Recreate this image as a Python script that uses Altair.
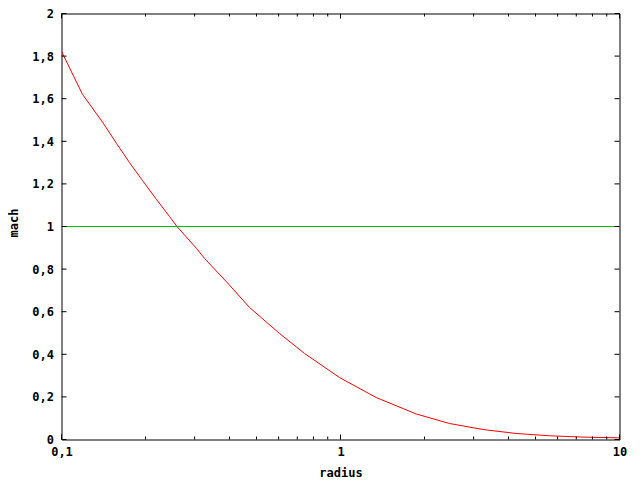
import altair as alt
import pandas as pd

radius = [0.1, 0.119, 0.1403, 0.1575, 0.1753, 0.1951, 0.219, 0.2438, 0.259,
          0.3048, 0.3255, 0.3936, 0.4719, 0.6044, 0.743, 0.9918, 1.343, 1.867, 2.459,
          3.236, 4.264, 5.61, 7.39, 9.73, 10.0]
mach = [1.822, 1.620, 1.49, 1.39, 1.30, 1.216, 1.127, 1.047, 1.001,
        0.897, 0.85, 0.735, 0.62, 0.498, 0.404, 0.291, 0.197, 0.120, 0.0751,
        0.047, 0.0282, 0.0174, 0.0113, 0.008, 0.0077]

x_major = [0.1, 1, 10]
x_minor = [0.2, 0.3, 0.4, 0.5, 0.6, 0.7, 0.8, 0.9, 2, 3, 4, 5, 6, 7, 8, 9]
y_major = [0, 0.2, 0.4, 0.6, 0.8, 1.0, 1.2, 1.4, 1.6, 1.8, 2.0]
sonic = [1.0]

W, H = 558, 426
FONT = "DejaVu Sans Mono"
FS = 12
LBL = "replace(format(datum.value, '~g'), '.', ',')"

df = pd.DataFrame({"radius": radius, "mach": mach})
xs = alt.Scale(type="log", domain=[0.1, 10])
ys = alt.Scale(domain=[0, 2])

common = dict(tickSize=0, domain=False, grid=False, labelExpr=LBL,
              labelFont=FONT, labelFontSize=FS, labelFontWeight="bold", labelColor="black",
              titleFont=FONT, titleFontSize=FS, titleFontWeight="bold", titleColor="black",
              titleBaseline="middle")

curve = alt.Chart(df).mark_line(color="#ff0000", strokeWidth=1, clip=True).encode(
    x=alt.X("radius:Q", scale=xs, title="radius",
            axis=alt.Axis(values=x_major, labelPadding=7, labelFlush=False,
                          titleY=33, **common)),
    y=alt.Y("mach:Q", scale=ys, title="mach",
            axis=alt.Axis(values=y_major, labelPadding=8,
                          titleX=-48, titleY=H / 2 - 4,
                          titleAlign="center", titleAngle=-90, **common)),
)

green = alt.Chart(pd.DataFrame({"m": sonic})).mark_rule(color="#00c000", strokeWidth=1).encode(
    y=alt.Y("m:Q", scale=ys), x=alt.value(0), x2=alt.value(W))

xmaj = pd.DataFrame({"v": x_major})
xmin = pd.DataFrame({"v": x_minor})
ymaj = pd.DataFrame({"v": y_major})

def xticks(data, length):
    bottom = alt.Chart(data).mark_rule(color="black", strokeWidth=1).encode(
        x=alt.X("v:Q", scale=xs), y=alt.value(H), y2=alt.value(H - length))
    top = alt.Chart(data).mark_rule(color="black", strokeWidth=1).encode(
        x=alt.X("v:Q", scale=xs), y=alt.value(0), y2=alt.value(length))
    return bottom + top

left = alt.Chart(ymaj).mark_rule(color="black", strokeWidth=1).encode(
    y=alt.Y("v:Q", scale=ys), x=alt.value(0), x2=alt.value(5))
right = alt.Chart(ymaj).mark_rule(color="black", strokeWidth=1).encode(
    y=alt.Y("v:Q", scale=ys), x=alt.value(W), x2=alt.value(W - 5))

chart = alt.layer(curve, green, xticks(xmaj, 5), xticks(xmin, 3), left, right).properties(
    width=W, height=H,
    autosize=alt.AutoSizeParams(type="none"),
    padding={"left": 53.5, "top": 5.5, "right": 12.5, "bottom": 40.5},
).configure(background="white").configure_view(stroke="black", strokeWidth=1, strokeOpacity=1)

chart.save("out.html", embed_options={"renderer": "svg", "actions": False})
